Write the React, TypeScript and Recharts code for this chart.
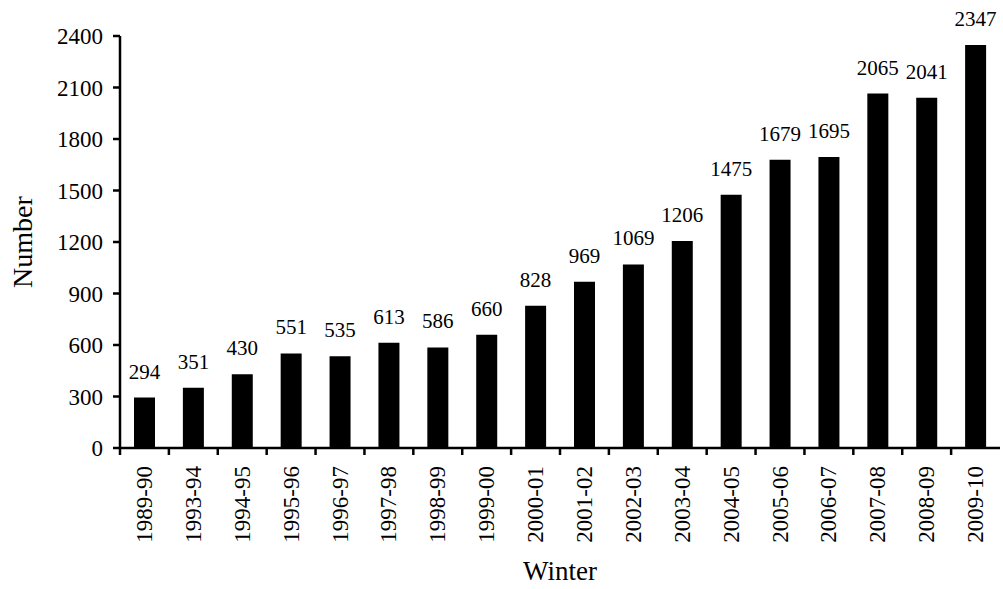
import React from "react";
import { BarChart, Bar, XAxis, YAxis, LabelList } from "recharts";

const winters = [
  "1989-90", "1993-94", "1994-95", "1995-96", "1996-97", "1997-98",
  "1998-99", "1999-00", "2000-01", "2001-02", "2002-03", "2003-04",
  "2004-05", "2005-06", "2006-07", "2007-08", "2008-09", "2009-10",
];
const counts = [
  294, 351, 430, 551, 535, 613, 586, 660, 828, 969, 1069, 1206, 1475,
  1679, 1695, 2065, 2041, 2347,
];
const yTicks = [0, 300, 600, 900, 1200, 1500, 1800, 2100, 2400];

const data = winters.map((w, i) => ({ winter: w, number: counts[i] }));

const FONT = "'Liberation Serif', 'Times New Roman', serif";
const TICK_SIZE = 7;
const TICK_MARGIN = 10;

function WinterTick(props: any) {
  const { x, y, payload } = props;
  const half = payload && typeof payload.offset === "number" ? payload.offset : 24.4;
  const axisY = y - TICK_SIZE - TICK_MARGIN;
  return (
    <g>
      <line
        x1={x - half}
        x2={x - half}
        y1={axisY}
        y2={axisY + TICK_SIZE}
        stroke="#000"
        strokeWidth={2.5}
      />
      <text
        x={x}
        y={y + 1}
        transform={`rotate(-90, ${x}, ${y + 1})`}
        textAnchor="end"
        dominantBaseline="central"
        fontFamily={FONT}
        fontSize={23}
        fill="#000"
      >
        {payload.value}
      </text>
    </g>
  );
}

export default function App() {
  return (
    <div style={{ width: 1003, height: 589 }}>
      <style>{"body{margin:0;background:#fff}"}</style>
      <BarChart
        width={1003}
        height={589}
        data={data}
        margin={{ top: 36, right: 3, left: 0, bottom: 0 }}
        barSize={21}
      >
        <XAxis
          dataKey="winter"
          interval={0}
          height={141}
          tickSize={TICK_SIZE}
          tickMargin={TICK_MARGIN}
          tickLine={false}
          axisLine={{ stroke: "#000", strokeWidth: 2.5 }}
          tick={<WinterTick />}
          label={{
            value: "Winter",
            position: "insideBottom",
            offset: 9,
            fontFamily: FONT,
            fontSize: 27,
            fill: "#000",
          }}
        />
        <YAxis
          width={120}
          domain={[0, 2400]}
          ticks={yTicks}
          interval={0}
          tickSize={TICK_SIZE}
          tickMargin={TICK_MARGIN}
          axisLine={{ stroke: "#000", strokeWidth: 2.5 }}
          tickLine={{ stroke: "#000", strokeWidth: 2.5 }}
          tick={{ fontFamily: FONT, fontSize: 23, fill: "#000" }}
          label={{
            value: "Number",
            angle: -90,
            position: "insideLeft",
            offset: 22,
            fontFamily: FONT,
            fontSize: 28,
            fill: "#000",
            style: { textAnchor: "middle" },
          }}
        />
        <Bar dataKey="number" fill="#000" isAnimationActive={false}>
          <LabelList
            dataKey="number"
            position="top"
            offset={19}
            fontFamily={FONT}
            fontSize={21}
            fill="#000"
          />
        </Bar>
      </BarChart>
    </div>
  );
}
